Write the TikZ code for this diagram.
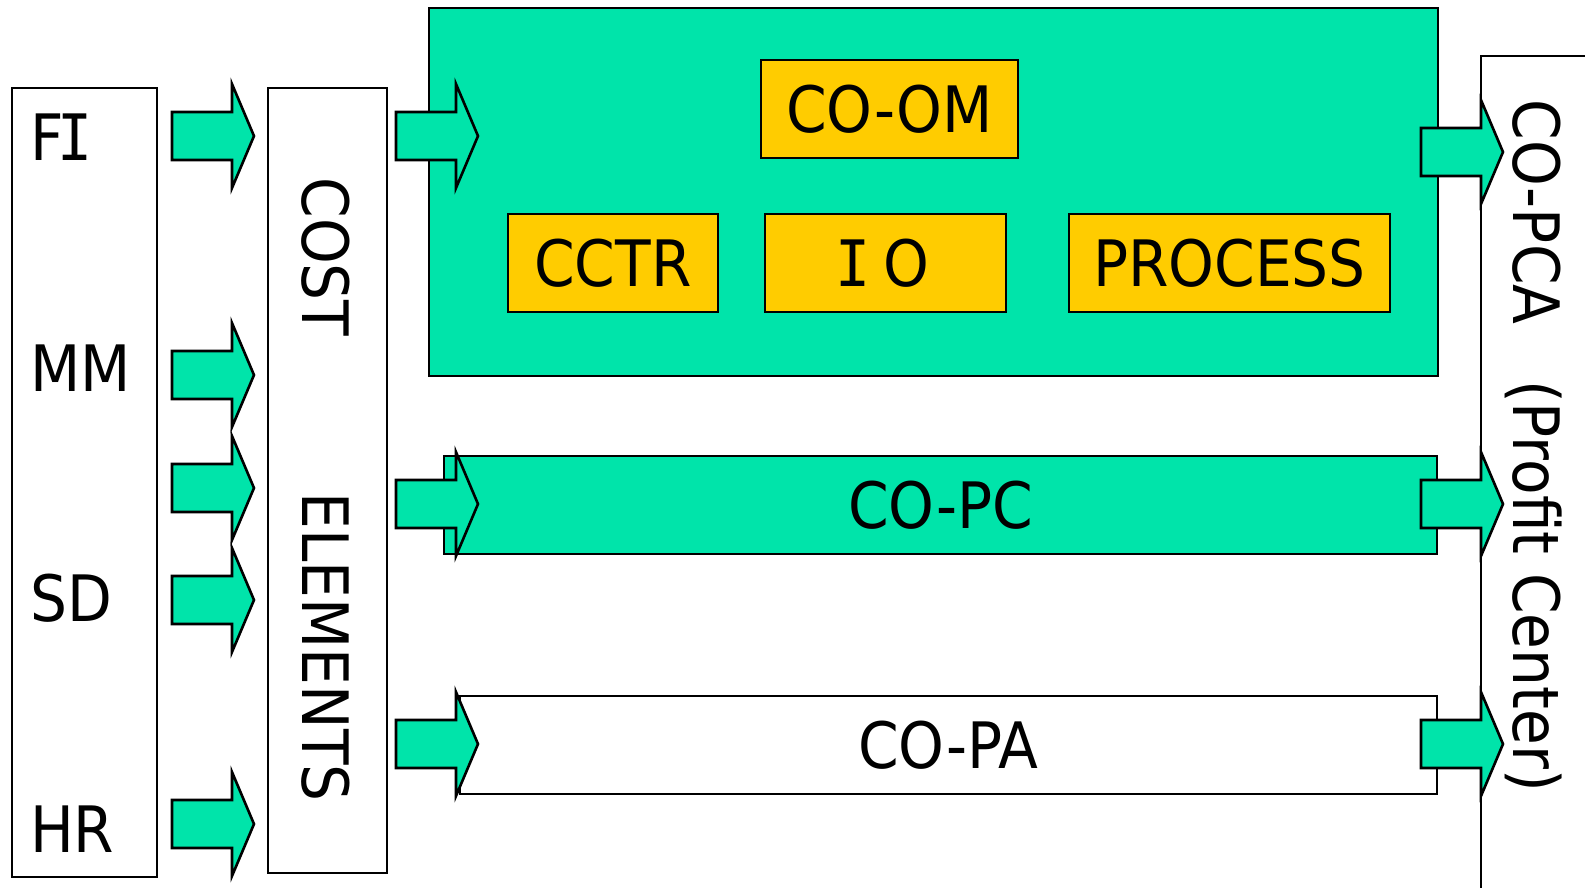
\documentclass[tikz,border=0pt]{standalone}
\usepackage{fontspec}
\setmainfont[FakeStretch=0.91]{DejaVu Sans}
\newfontfamily\monoIfont[FakeStretch=0.91]{DejaVu Sans Mono}
\newcommand\serifI{\makebox[0.36em][c]{\monoIfont I}}
\definecolor{boxgreen}{RGB}{0,228,170}
\definecolor{boxorange}{RGB}{255,204,0}
\begin{document}
\begin{tikzpicture}[x=1pt,y=-1pt,
  line join=miter,
  box/.style={draw=black,line width=2.6pt,inner sep=0pt,outer sep=0pt,rectangle},
  greenbox/.style={box,fill=boxgreen},
  orangebox/.style={box,fill=boxorange},
  whitebox/.style={box,fill=white},
  lbl/.style={font=\fontsize{64}{76}\selectfont},
  arrowstyle/.style={draw=black,line width=2.6pt,fill=boxgreen},
  blockarrow/.pic={\draw[arrowstyle] (0,-24) -- (60,-24) -- (60,-52) -- (82,0) -- (60,52) -- (60,24) -- (0,24) -- cycle;}
]
\useasboundingbox (0,0) rectangle (1585,887);
\clip (0,0) rectangle (1585,887);
\fill[white] (0,0) rectangle (1585,887);

% left column box and labels
\node[whitebox,minimum width=145pt,minimum height=789pt] (modules) at (84.5,482.5) {};
\node[lbl,anchor=base west,inner sep=0pt] (fi) at (30,160) {F\serifI};
\node[lbl,anchor=base west,inner sep=0pt] (mm) at (30,391) {MM};
\node[lbl,anchor=base west,inner sep=0pt] (sd) at (30,621) {SD};
\node[lbl,anchor=base west,inner sep=0pt] (hr) at (30,852) {HR};

% cost elements box
\node[whitebox,minimum width=119pt,minimum height=785pt] (ce) at (327.5,480.5) {};
\node[lbl,rotate=-90,inner sep=0pt] (cost) at (326,257) {COST};
\node[lbl,rotate=-90,inner sep=0pt] (elements) at (326,647) {ELEMENTS};

% big CO-OM area
\node[greenbox,minimum width=1009pt,minimum height=368pt] (om) at (933.5,192) {};
\node[orangebox,lbl,minimum width=257pt,minimum height=98pt] (coom) at (889.5,109) {CO-OM};
\node[orangebox,lbl,minimum width=210pt,minimum height=98pt] (cctr) at (613,263) {CCTR};
\node[orangebox,lbl,minimum width=241pt,minimum height=98pt] (io) at (885.5,263) {\serifI\ O};
\node[orangebox,lbl,minimum width=321pt,minimum height=98pt] (process) at (1229.5,263) {PROCESS};

% CO-PC and CO-PA
\node[greenbox,lbl,minimum width=993pt,minimum height=98pt] (copc) at (940.5,505) {CO-PC};
\node[whitebox,lbl,minimum width=977pt,minimum height=98pt] (copa) at (948.5,745) {CO-PA};

% CO-PCA box (runs off the right and bottom edges)
\node[whitebox,minimum width=139pt,minimum height=864pt] (copca) at (1550.5,488) {};
\node[lbl,rotate=-90,anchor=base,inner sep=0pt] (copcatext) at (1513,446) {CO-PCA\ \ \ (Profit Center)};

% block arrows: modules -> cost elements
\pic (a1) at (172,136) {blockarrow};
\pic (a2) at (172,375) {blockarrow};
\pic (a3) at (172,488) {blockarrow};
\pic (a4) at (172,600) {blockarrow};
\pic (a5) at (172,824) {blockarrow};

% block arrows: cost elements -> CO areas
\pic (b1) at (396,136) {blockarrow};
\pic (b2) at (396,504) {blockarrow};
\pic (b3) at (396,744) {blockarrow};

% block arrows: CO areas -> CO-PCA
\pic (c1) at (1421,152) {blockarrow};
\pic (c2) at (1421,504) {blockarrow};
\pic (c3) at (1421,744) {blockarrow};
\end{tikzpicture}
\end{document}
